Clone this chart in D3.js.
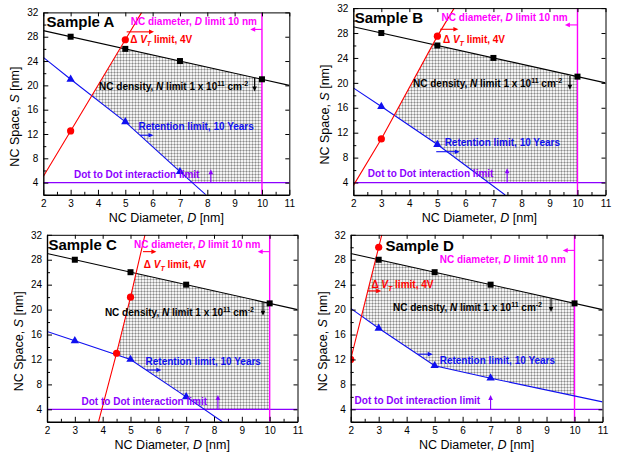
<!DOCTYPE html>
<html>
<head>
<meta charset="utf-8">
<title>NC design window, samples A-D</title>
<script src="https://cdn.jsdelivr.net/npm/d3@7/dist/d3.min.js"></script>
<style>
    body {
        margin: 0;
        background: #fff;
        font-family: "Liberation Sans", Arial, sans-serif;
    }
</style>
</head>
<body>
<svg id="fig" width="618" height="453"></svg>
<script>
    // axis ticks
    var xTicks = [2, 3, 4, 5, 6, 7, 8, 9, 10, 11];
    var xMinor = [2.5, 3.5, 4.5, 5.5, 6.5, 7.5, 8.5, 9.5, 10.5];
    var yTicks = [4, 8, 12, 16, 20, 24, 28, 32];
    var yMinor = [2, 6, 10, 14, 18, 22, 26, 30];

    // NC density limit (same for every sample)
    var densityPts = [[3, 28], [5, 26], [7, 24], [10, 21]];
    var densityFit = [[2, 29], [11, 20]];
    var dLimit = 10;   // NC diameter limit
    var sLimit = 4;    // dot to dot interaction limit

    // sample A
    var vtPtsA = [[3, 12.5], [5, 27.5]];
    var vtFitA = [[2, 5], [3, 12.5], [5, 27.5], [5.6, 32]];
    var retPtsA = [[3, 21], [5, 14], [7, 5.8]];
    var retFitA = [[2, 24.6], [3, 21], [5, 14], [7, 5.8], [7.95, 2]];

    // sample B
    var vtPtsB = [[3, 11], [5, 27.5]];
    var vtFitB = [[2, 3.5], [3, 11], [5, 27.5], [5.6, 32]];
    var retPtsB = [[3, 16.2], [5, 10.1]];
    var retFitB = [[2, 19.2], [3, 16.2], [5, 10.1], [7.42, 2]];

    // sample C
    var vtPtsC = [[4.5, 13], [5, 22]];
    var vtFitC = [[3.85, 2], [4.5, 13], [5, 22], [5.52, 32]];
    var retPtsC = [[3, 15], [5, 12], [7, 6]];
    var retFitC = [[2, 16.5], [3, 15], [5, 12], [7, 6], [8.3, 2]];

    // sample D
    var vtPtsD = [[2, 12], [3, 30]];
    var vtFitD = [[2, 12], [3, 30], [3.11, 32]];
    var retPtsD = [[3, 17], [5, 11], [7, 9]];
    var retFitD = [[2, 20.2], [3, 17], [5, 11], [7, 9], [11, 5.2]];

    var RED = "#ff0000", BLUE = "#1010f0", MAG = "#ff00ff", PURP = "#8c00ff";

    // layout: plot frame in px + where the notes sit (data units)
    var panels = [
        {name: "Sample A", frame: [43.3, 12.4, 289.3, 194.8],
         vtPts: vtPtsA, vtFit: vtFitA, retPts: retPtsA, retFit: retFitA,
         label: [2.12, 30.5],
         vtText: [5.18, 27.5], vtArrow: [[5.05, 28.8], [6.05, 28.8]],
         retText: [5.48, 13.3], retArrow: [[5.54, 11.8], [6.03, 11.8]],
         dText: [5.2, 30.5], dArrow: [[10, 29.2], [9.57, 29.2]],
         nText: [4.04, 19.9], nArrow: [[9.73, 21.2], [9.73, 19.0]],
         iText: [3.12, 5.4], iArrow: [[8.13, 4], [8.13, 6.2]]},
        {name: "Sample B", frame: [353.3, 8.1, 605.5, 195],
         vtPts: vtPtsB, vtFit: vtFitB, retPts: retPtsB, retFit: retFitB,
         label: [2.05, 30.4],
         vtText: [5.2, 27], vtArrow: [[5.1, 28.6], [5.75, 28.6]],
         retText: [5.26, 10.4], retArrow: [[4.96, 8.95], [5.8, 8.95]],
         dText: [5.15, 30.5], dArrow: [[10, 29.3], [9.55, 29.3]],
         nText: [4.13, 19.9], nArrow: [[9.73, 21.1], [9.73, 18.9]],
         iText: [2.52, 5.4], iArrow: [[7.49, 4], [7.49, 6.3]]},
        {name: "Sample C", frame: [47, 234.8, 297.5, 421.8],
         vtPts: vtPtsC, vtFit: vtFitC, retPts: retPtsC, retFit: retFitC,
         label: [2.05, 30.4],
         vtText: [5.48, 27.3], vtArrow: [[5.45, 29.3], [5.93, 29.3]],
         retText: [5.54, 11.75], retArrow: [[5.57, 10.3], [6.11, 10.3]],
         dText: [5.13, 30.5], dArrow: [[10, 29.3], [9.57, 29.3]],
         nText: [4.08, 19.55], nArrow: [[9.76, 21.2], [9.76, 19]],
         iText: [3.24, 5.3], iArrow: [[8.14, 4], [8.14, 6.3]]},
        {name: "Sample D", frame: [350.7, 234.8, 602.5, 421.8],
         vtPts: vtPtsD, vtFit: vtFitD, retPts: retPtsD, retFit: retFitD,
         label: [3.24, 30.3],
         vtText: [2.74, 24.1], vtArrow: [[2.6, 23], [3.09, 23]],
         retText: [5.18, 11.8], retArrow: [[4.4, 12.85], [4.93, 12.85]],
         dText: [5.18, 28], dArrow: [[10, 29.5], [9.58, 29.5]],
         nText: [3.51, 20.3], nArrow: [[9.16, 21.8], [9.16, 19.6]],
         iText: [2.14, 5.5], iArrow: [[7.0, 4], [7.0, 6.3]]}
    ];

    var svg = d3.select("#fig");
    var defs = svg.append("defs");

    // light grey dotted fill of the allowed window
    var pat = defs.append("pattern").attr("id", "dots")
        .attr("width", 3).attr("height", 3).attr("patternUnits", "userSpaceOnUse");
    pat.append("rect").attr("width", 3).attr("height", 3).attr("fill", "#f3f3f3");
    pat.append("path").attr("d", "M0,0.5H3M0.5,0V3")
        .attr("stroke", "#bdbdbd").attr("stroke-width", 1);
    pat.append("rect").attr("width", 1).attr("height", 1).attr("fill", "#8a8a8a");

    // piecewise linear, extrapolated from the end segments
    function interp(pts, x) {
        var i = 0;
        while (i < pts.length - 2 && x > pts[i + 1][0]) i++;
        var a = pts[i], b = pts[i + 1];
        return a[1] + (b[1] - a[1]) * (x - a[0]) / (b[0] - a[0]);
    }

    function arrow(g, x1, y1, x2, y2, color) {
        var ang = Math.atan2(y2 - y1, x2 - x1), len = 5, w = 2.3;
        var c = Math.cos(ang), s = Math.sin(ang);
        g.append("line")
            .attr("x1", x1).attr("y1", y1)
            .attr("x2", x2 - c * len * 0.8).attr("y2", y2 - s * len * 0.8)
            .attr("stroke", color).attr("stroke-width", 1.1);
        g.append("path")
            .attr("d", "M" + x2 + "," + y2 +
                "L" + (x2 - c * len - s * w) + "," + (y2 - s * len + c * w) +
                "L" + (x2 - c * len + s * w) + "," + (y2 - s * len - c * w) + "Z")
            .attr("fill", color);
    }

    // text with italic / sub / sup parts
    function rich(g, x, y, parts, color, size) {
        var t = g.append("text").attr("x", x).attr("y", y)
            .attr("fill", color).attr("font-size", size).attr("font-weight", "bold");
        var shift = 0;
        parts.forEach(function (p) {
            var dy = 0;
            if (p.sup) dy = -4 - shift;
            else if (p.sub) dy = 3 - shift;
            else dy = -shift;
            shift += dy;
            var ts = t.append("tspan").text(p.t).attr("dy", dy);
            if (p.i) ts.attr("font-style", "italic");
            if (p.sup || p.sub) ts.attr("font-size", size * 0.7);
        });
        return t;
    }

    panels.forEach(function (p, k) {
        var l = p.frame[0], t = p.frame[1], r = p.frame[2], b = p.frame[3];
        var x = d3.scaleLinear().domain([2, 11]).range([l, r]);
        var y = d3.scaleLinear().domain([2, 32]).range([b, t]);
        var g = svg.append("g");

        var clipId = "clip" + k;
        defs.append("clipPath").attr("id", clipId)
            .append("rect").attr("x", l).attr("y", t).attr("width", r - l).attr("height", b - t);
        var body = g.append("g").attr("clip-path", "url(#" + clipId + ")");

        // allowed design window
        var region = d3.range(2, dLimit + 1e-9, 0.005).map(function (d) {
            return {
                d: d,
                hi: Math.min(interp(densityFit, d), interp(p.vtFit, d)),
                lo: Math.max(interp(p.retFit, d), sLimit)
            };
        });
        body.append("path").datum(region)
            .attr("fill", "url(#dots)")
            .attr("d", d3.area()
                .defined(function (v) { return v.hi > v.lo; })
                .x(function (v) { return x(v.d); })
                .y0(function (v) { return y(v.lo); })
                .y1(function (v) { return y(v.hi); }));

        var line = d3.line().x(function (d) { return x(d[0]); }).y(function (d) { return y(d[1]); });

        body.append("line").attr("x1", l).attr("x2", r)
            .attr("y1", y(sLimit)).attr("y2", y(sLimit))
            .attr("stroke", PURP).attr("stroke-width", 1.3);
        body.append("line").attr("x1", x(dLimit)).attr("x2", x(dLimit))
            .attr("y1", t).attr("y2", b)
            .attr("stroke", MAG).attr("stroke-width", 1.4);
        body.append("path").datum(densityFit).attr("d", line)
            .attr("fill", "none").attr("stroke", "#000").attr("stroke-width", 1.1);
        body.append("path").datum(p.retFit).attr("d", line)
            .attr("fill", "none").attr("stroke", BLUE).attr("stroke-width", 1.1);
        body.append("path").datum(p.vtFit).attr("d", line)
            .attr("fill", "none").attr("stroke", RED).attr("stroke-width", 1.1);

        // markers
        body.selectAll(".sq").data(densityPts).enter().append("rect")
            .attr("x", function (d) { return x(d[0]) - 3; })
            .attr("y", function (d) { return y(d[1]) - 3; })
            .attr("width", 6).attr("height", 6).attr("fill", "#000");
        body.selectAll(".tri").data(p.retPts).enter().append("path")
            .attr("d", d3.symbol().type(d3.symbolTriangle).size(30))
            .attr("transform", function (d) { return "translate(" + x(d[0]) + "," + y(d[1]) + ")"; })
            .attr("fill", BLUE);
        body.selectAll(".dot").data(p.vtPts).enter().append("circle")
            .attr("cx", function (d) { return x(d[0]); })
            .attr("cy", function (d) { return y(d[1]); })
            .attr("r", 3.6).attr("fill", RED);

        // arrows
        function arr(a, c) { arrow(g, x(a[0][0]), y(a[0][1]), x(a[1][0]), y(a[1][1]), c); }
        arr(p.vtArrow, RED);
        arr(p.retArrow, BLUE);
        arr(p.dArrow, MAG);
        arr(p.nArrow, "#000");
        arr(p.iArrow, PURP);

        // notes
        function at(pos) { return [x(pos[0]), y(pos[1]) + 3.6]; }
        var q;
        q = at(p.vtText);
        rich(g, q[0], q[1], [{t: "\u0394 "}, {t: "V", i: true}, {t: "T", i: true, sub: true}, {t: " limit, 4V"}], RED, 10);
        q = at(p.retText);
        rich(g, q[0], q[1], [{t: "Retention limit, 10 Years"}], BLUE, 10);
        q = at(p.dText);
        rich(g, q[0], q[1], [{t: "NC diameter, "}, {t: "D", i: true}, {t: " limit 10 nm"}], MAG, 10);
        q = at(p.nText);
        rich(g, q[0], q[1], [{t: "NC density, "}, {t: "N", i: true}, {t: " limit 1 x 10"}, {t: "11", sup: true},
            {t: " cm"}, {t: "-2", sup: true}], "#000", 10);
        q = at(p.iText);
        rich(g, q[0], q[1], [{t: "Dot to Dot interaction limit"}], PURP, 10);

        g.append("text").attr("x", x(p.label[0])).attr("y", y(p.label[1]) + 5.3)
            .attr("font-size", 15).attr("font-weight", "bold").text(p.name);

        // axes
        function styleAxis(sel, w) {
            sel.select(".domain").attr("stroke", "#000").attr("stroke-width", w);
            sel.selectAll(".tick line").attr("stroke", "#000");
            sel.selectAll("text").attr("font-size", 10).attr("fill", "#000")
                .attr("font-family", "'Liberation Sans', Arial, sans-serif");
        }
        var ax;
        ax = g.append("g").attr("transform", "translate(0," + b + ")")
            .call(d3.axisBottom(x).tickValues(xTicks).tickSize(-5).tickSizeOuter(0).tickPadding(5));
        styleAxis(ax, 1.4);
        ax = g.append("g").attr("transform", "translate(0," + b + ")")
            .call(d3.axisBottom(x).tickValues(xMinor).tickSize(-3).tickSizeOuter(0).tickFormat(""));
        ax.select(".domain").remove();
        ax.selectAll(".tick line").attr("stroke", "#000");
        ax = g.append("g").attr("transform", "translate(0," + t + ")")
            .call(d3.axisTop(x).tickValues(xTicks).tickSize(-4).tickSizeOuter(0).tickFormat(""));
        styleAxis(ax, 1);

        ax = g.append("g").attr("transform", "translate(" + l + ",0)")
            .call(d3.axisLeft(y).tickValues(yTicks).tickSize(-5).tickSizeOuter(0).tickPadding(5));
        styleAxis(ax, 1.4);
        ax = g.append("g").attr("transform", "translate(" + l + ",0)")
            .call(d3.axisLeft(y).tickValues(yMinor).tickSize(-3).tickSizeOuter(0).tickFormat(""));
        ax.select(".domain").remove();
        ax.selectAll(".tick line").attr("stroke", "#000");
        ax = g.append("g").attr("transform", "translate(" + r + ",0)")
            .call(d3.axisRight(y).tickValues(yTicks).tickSize(-4).tickSizeOuter(0).tickFormat(""));
        styleAxis(ax, 1);

        // axis titles
        var xt = g.append("text").attr("x", (l + r) / 2).attr("y", b + 27)
            .attr("text-anchor", "middle").attr("font-size", 12.5);
        xt.append("tspan").text("NC Diameter, ");
        xt.append("tspan").attr("font-style", "italic").text("D");
        xt.append("tspan").text(" [nm]");

        var yt = g.append("text")
            .attr("transform", "translate(" + (l - 24) + "," + ((t + b) / 2 + 13) + ") rotate(-90)")
            .attr("text-anchor", "middle").attr("font-size", 12.5);
        yt.append("tspan").text("NC Space, ");
        yt.append("tspan").attr("font-style", "italic").text("S");
        yt.append("tspan").text(" [nm]");
    });
</script>
</body>
</html>
